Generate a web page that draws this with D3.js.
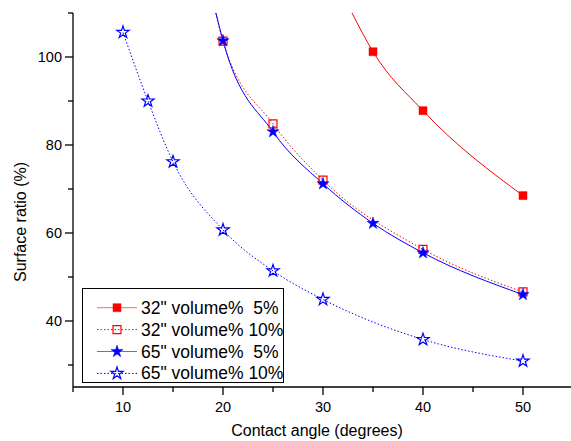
<!DOCTYPE html>
<html>
<head>
<meta charset="utf-8">
<script src="https://cdn.jsdelivr.net/npm/d3@7"></script>
<style>
  body { margin: 0; background: #fff; }
  text { font-family: "Liberation Sans", Arial, sans-serif; fill: #000; }
</style>
</head>
<body>
<div id="chart"></div>
<script>
// contact angle (degrees) vs surface ratio (%)
let names = ['32" volume%  5%', '32" volume% 10%', '65" volume%  5%', '65" volume% 10%'];

let x32v5 = [35, 40, 50];
let y32v5 = [101.2, 87.8, 68.5];
let x32v10 = [20, 25, 30, 40, 50];
let y32v10 = [103.6, 84.8, 72.0, 56.3, 46.6];
let x65v5 = [20, 25, 30, 35, 40, 50];
let y65v5 = [103.7, 83.0, 71.2, 62.2, 55.5, 46.0];
let x65v10 = [10, 12.5, 15, 20, 25, 30, 40, 50];
let y65v10 = [105.6, 90.0, 76.2, 60.7, 51.4, 44.9, 35.8, 30.9];

// where the fitted curves leave the top of the plot
let fitStartX = [32.9, 19.25, 19.3, null];
let fitStartY = [110, 110, 110, null];

let xMajor = [10, 20, 30, 40, 50];
let xMinor = [5, 15, 25, 35, 45, 55];
let yMajor = [40, 60, 80, 100];
let yMinor = [30, 50, 70, 90, 110];

let width = 571, height = 441;
let margin = {top: 13, left: 73, bottom: 54};

let svg = d3.select("#chart").append("svg")
    .attr("width", width)
    .attr("height", height);

let x = d3.scaleLinear().domain([5, 55]).range([margin.left, margin.left + 500]);
let y = d3.scaleLinear().domain([25, 110]).range([height - margin.bottom, margin.top]);

svg.append("clipPath").attr("id", "plot")
    .append("rect")
    .attr("x", margin.left).attr("y", margin.top)
    .attr("width", width - margin.left).attr("height", y(25) - margin.top);

let series = [
    {xs: x32v5, ys: y32v5, color: "#ff0000", dash: null, symbol: d3.symbolSquare, fill: true},
    {xs: x32v10, ys: y32v10, color: "#ff0000", dash: "1.5,2", symbol: d3.symbolSquare, fill: false},
    {xs: x65v5, ys: y65v5, color: "#0000ff", dash: null, symbol: d3.symbolStar, fill: true},
    {xs: x65v10, ys: y65v10, color: "#0000ff", dash: "1.5,2", symbol: d3.symbolStar, fill: false}
];

let line = d3.line()
    .x(d => x(d[0]))
    .y(d => y(d[1]))
    .curve(d3.curveMonotoneX);

let plot = svg.append("g").attr("clip-path", "url(#plot)");

series.forEach((s, i) => {
    let pts = s.xs.map((v, j) => [v, s.ys[j]]);
    let curve = fitStartX[i] != null ? [[fitStartX[i], fitStartY[i]]].concat(pts) : pts;
    plot.append("path")
        .attr("d", line(curve))
        .attr("fill", "none")
        .attr("stroke", s.color)
        .attr("stroke-width", 1)
        .attr("stroke-dasharray", s.dash);
});

function marker(g, s, cx, cy) {
    let size = s.symbol === d3.symbolSquare ? 64 : 46;
    g.append("path")
        .attr("d", d3.symbol().type(s.symbol).size(size)())
        .attr("transform", `translate(${cx},${cy})`)
        .attr("fill", s.fill ? s.color : "#fff")
        .attr("fill-opacity", s.fill ? 1 : 0)
        .attr("stroke", s.color)
        .attr("stroke-width", s.fill ? 0.5 : 1.2);
}

series.forEach(s => {
    s.xs.forEach((v, j) => marker(svg, s, x(v), y(s.ys[j])));
});

// axes
let axes = svg.append("g").attr("stroke", "#000").attr("stroke-width", 1.3);
axes.append("line")
    .attr("x1", margin.left).attr("x2", margin.left)
    .attr("y1", margin.top).attr("y2", y(25));
axes.append("line")
    .attr("x1", margin.left).attr("x2", width)
    .attr("y1", y(25)).attr("y2", y(25));

axes.selectAll(".ymaj").data(yMajor).join("line")
    .attr("x1", margin.left - 8).attr("x2", margin.left)
    .attr("y1", d => y(d)).attr("y2", d => y(d));
axes.selectAll(".ymin").data(yMinor).join("line")
    .attr("class", "ymin")
    .attr("x1", margin.left - 5).attr("x2", margin.left)
    .attr("y1", d => y(d)).attr("y2", d => y(d));
axes.selectAll(".xmaj").data(xMajor).join("line")
    .attr("class", "xmaj")
    .attr("x1", d => x(d)).attr("x2", d => x(d))
    .attr("y1", y(25)).attr("y2", y(25) + 8);
axes.selectAll(".xmin").data(xMinor).join("line")
    .attr("class", "xmin")
    .attr("x1", d => x(d)).attr("x2", d => x(d))
    .attr("y1", y(25)).attr("y2", y(25) + 5);

svg.selectAll(".ylab").data(yMajor).join("text")
    .attr("class", "ylab")
    .attr("x", margin.left - 11)
    .attr("y", d => y(d) + 5)
    .attr("text-anchor", "end")
    .style("font-size", "14.5px")
    .text(d => d);

svg.selectAll(".xlab").data(xMajor).join("text")
    .attr("class", "xlab")
    .attr("x", d => x(d))
    .attr("y", y(25) + 25)
    .attr("text-anchor", "middle")
    .style("font-size", "14.5px")
    .text(d => d);

svg.append("text")
    .attr("x", 317)
    .attr("y", 436)
    .attr("text-anchor", "middle")
    .style("font-size", "16px")
    .text("Contact angle (degrees)");

svg.append("text")
    .attr("transform", "translate(26,222) rotate(-90)")
    .attr("text-anchor", "middle")
    .style("font-size", "16px")
    .text("Surface ratio (%)");

// legend
let legend = svg.append("g");
legend.append("rect")
    .attr("x", 82.5).attr("y", 288.5)
    .attr("width", 201).attr("height", 94)
    .attr("fill", "#fff")
    .attr("stroke", "#000")
    .attr("stroke-width", 1);

series.forEach((s, i) => {
    let cy = 307.7 + i * 21.9;
    legend.append("line")
        .attr("x1", 97).attr("x2", 137)
        .attr("y1", cy).attr("y2", cy)
        .attr("stroke", s.color)
        .attr("stroke-opacity", s.dash ? 1 : 0.6)
        .attr("stroke-width", 1)
        .attr("stroke-dasharray", s.dash);
    marker(legend, s, 117, cy);
    legend.append("text")
        .attr("x", 141)
        .attr("y", cy + 6)
        .style("font-size", "17.5px")
        .attr("xml:space", "preserve")
        .text(names[i]);
});
</script>
</body>
</html>
